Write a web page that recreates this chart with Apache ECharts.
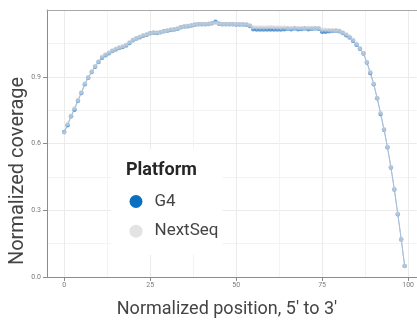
<!DOCTYPE html>
<html>
<head>
<meta charset="utf-8">
<script src="https://cdn.jsdelivr.net/npm/echarts@6/dist/echarts.min.js"></script>
<style>
html,body{margin:0;padding:0;background:#fff;}
#chart{width:417px;height:322px;}
</style>
</head>
<body>
<div id="chart"></div>
<script>
// Normalized position (bins, 5' to 3')
const positions = [0,1,2,3,4,5,6,7,8,9,10,11,12,13,14,15,16,17,18,19,20,21,22,23,24,25,26,27,28,29,30,31,32,33,34,35,36,37,38,39,40,41,42,43,44,45,46,47,48,49,50,51,52,53,54,55,56,57,58,59,60,61,62,63,64,65,66,67,68,69,70,71,72,73,74,75,76,77,78,79,80,81,82,83,84,85,86,87,88,89,90,91,92,93,94,95,96,97,98,99];

const g4Coverage = [0.652,0.682,0.722,0.752,0.792,0.827,0.866,0.895,0.921,0.945,
0.966,0.985,0.997,1.006,1.016,1.023,1.029,1.034,1.041,1.052,
1.064,1.072,1.078,1.084,1.089,1.095,1.098,1.097,1.100,1.104,
1.107,1.110,1.112,1.116,1.122,1.126,1.127,1.130,1.134,1.136,
1.136,1.136,1.137,1.140,1.147,1.138,1.136,1.136,1.136,1.136,
1.135,1.135,1.135,1.134,1.128,1.113,1.112,1.112,1.112,1.112,
1.112,1.112,1.112,1.112,1.113,1.116,1.114,1.117,1.114,1.115,
1.117,1.114,1.116,1.117,1.116,1.102,1.102,1.104,1.106,1.107,
1.105,1.097,1.086,1.076,1.062,1.044,1.026,1.004,0.964,0.917,
0.866,0.803,0.733,0.662,0.583,0.492,0.393,0.282,0.169,0.049];

const nextSeqCoverage = [0.650,0.688,0.725,0.758,0.795,0.830,0.870,0.898,0.924,0.948,
0.969,0.990,1.000,1.009,1.018,1.026,1.031,1.037,1.044,1.055,
1.066,1.074,1.080,1.086,1.091,1.096,1.099,1.099,1.101,1.105,
1.108,1.112,1.114,1.118,1.123,1.127,1.129,1.131,1.135,1.137,
1.137,1.137,1.138,1.140,1.142,1.139,1.137,1.137,1.137,1.137,
1.137,1.136,1.136,1.136,1.131,1.122,1.121,1.121,1.121,1.121,
1.122,1.121,1.121,1.120,1.121,1.119,1.119,1.120,1.119,1.119,
1.119,1.120,1.119,1.119,1.119,1.111,1.111,1.110,1.108,1.108,
1.107,1.099,1.091,1.080,1.066,1.048,1.028,1.006,0.966,0.922,
0.868,0.806,0.738,0.664,0.585,0.494,0.395,0.284,0.170,0.049];

const xMajorTicks = [0,25,50,75,100];
const xMinorTicks = [12.5,37.5,62.5,87.5];
const seriesNames = ['G4','NextSeq'];
const legendTitle = 'Platform';
const xTitle = 'Normalized position, 5\u2032 to 3\u2032';
const yTitle = 'Normalized coverage';

const chart = echarts.init(document.getElementById('chart'), null, {renderer:'canvas'});
const FONT = 'Roboto';
const AXC = '#8c8c8c';

const option = {
  animation: false,
  textStyle: {fontFamily: FONT},
  grid: {left: 47, top: 10, right: 0, bottom: 45, containLabel: false},
  xAxis: [
    {
      type: 'value', min: -5, max: 102.5, position: 'bottom',
      axisLine: {show: true, onZero: false, lineStyle: {color: AXC, width: 1}},
      axisTick: {show: true, length: 4, lineStyle: {color: AXC}, customValues: xMajorTicks},
      axisLabel: {show: true, customValues: xMajorTicks, fontSize: 7, color: '#7a7a7a', margin: 5, fontFamily: FONT},
      splitLine: {show: true, lineStyle: {color: '#ebebeb', width: 1}}
    },
    {
      type: 'value', min: -5, max: 102.5, position: 'top',
      axisLine: {show: true, onZero: false, lineStyle: {color: '#a8a8a8', width: 1}},
      axisTick: {show: false, customValues: xMinorTicks},
      axisLabel: {show: false},
      splitLine: {show: true, lineStyle: {color: '#f3f3f3', width: 1}}
    }
  ],
  yAxis: {
    type: 'value', min: 0, max: 1.2, interval: 0.3,
    axisLine: {show: true, onZero: false, lineStyle: {color: AXC, width: 1}},
    axisTick: {show: true, length: 4, lineStyle: {color: AXC}},
    axisLabel: {fontSize: 7, color: '#7a7a7a', margin: 6, fontFamily: FONT, showMaxLabel: false,
      formatter: v => v.toFixed(1)},
    splitLine: {show: true, lineStyle: {color: '#ebebeb', width: 1}},
    minorTick: {show: false, splitNumber: 2},
    minorSplitLine: {show: true, lineStyle: {color: '#f3f3f3', width: 1}}
  },
  title: {
    text: legendTitle, left: 126, top: 161, padding: 0,
    textStyle: {fontFamily: FONT, fontSize: 18, fontWeight: 'bold', color: '#262626'}
  },
  legend: {
    orient: 'vertical', left: 111, top: 149,
    padding: [44, 4, 15, 18.5],
    backgroundColor: '#ffffff',
    icon: 'circle', itemWidth: 13, itemHeight: 13, itemGap: 12.7,
    selectedMode: false,
    textStyle: {fontFamily: FONT, fontSize: 17, color: '#444', lineHeight: 13, padding: [0,0,0,7]},
    data: [
      {name: seriesNames[0], itemStyle: {color: '#0b6fc1', opacity: 1}},
      {name: seriesNames[1], itemStyle: {color: '#e3e3e3', opacity: 1}}
    ]
  },
  graphic: [
    {
      type: 'text', x: 227, y: 309.5,
      style: {text: xTitle, fontFamily: FONT, fontSize: 18, fill: '#444', align: 'center', verticalAlign: 'middle'}
    },
    {
      type: 'text', x: 17.5, y: 171, rotation: Math.PI / 2,
      style: {text: yTitle, fontFamily: FONT, fontSize: 20, fill: '#444', align: 'center', verticalAlign: 'middle'}
    }
  ],
  series: [
    {
      name: seriesNames[0], type: 'line', z: 2,
      data: positions.map((p, i) => [p, g4Coverage[i]]),
      symbol: 'circle', symbolSize: 4.5, showAllSymbol: true,
      itemStyle: {color: '#1f76c6', opacity: 0.7},
      lineStyle: {color: '#9ab7d8', width: 1, opacity: 0.9}
    },
    {
      name: seriesNames[1], type: 'line', z: 3,
      data: positions.map((p, i) => [p, nextSeqCoverage[i]]),
      symbol: 'circle', symbolSize: 4.5, showAllSymbol: true,
      itemStyle: {color: '#cfd3d8', opacity: 0.7},
      lineStyle: {color: '#a5bedb', width: 1, opacity: 0.8}
    }
  ]
};
chart.setOption(option);
</script>
</body>
</html>
